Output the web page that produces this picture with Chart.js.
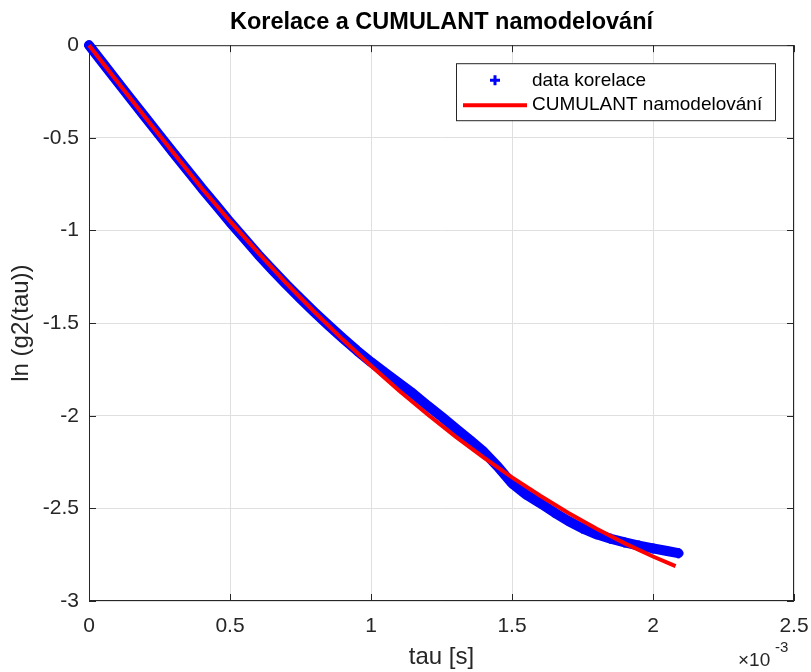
<!DOCTYPE html>
<html>
<head>
<meta charset="utf-8">
<title>Korelace a CUMULANT namodelování</title>
<style>
  html, body { margin: 0; padding: 0; background: #fff; }
  #wrap { width: 811px; height: 672px; }
</style>
</head>
<body>
<div id="wrap"><canvas id="myChart"></canvas></div>

<script src="https://cdn.jsdelivr.net/npm/chart.js"></script>

<script>
// tau in units of 1e-3 s (the axis shows x10^-3)
const tauData = [0.00, 0.05, 0.10, 0.15, 0.20, 0.25, 0.30, 0.35, 0.40, 0.45,
                 0.50, 0.55, 0.60, 0.65, 0.70, 0.75, 0.80, 0.85, 0.90, 0.95,
                 1.00, 1.05, 1.10, 1.15, 1.20, 1.25, 1.30, 1.35, 1.40, 1.45,
                 1.50, 1.55, 1.60, 1.65, 1.70, 1.75, 1.80, 1.85, 1.90, 1.95,
                 2.00, 2.05, 2.09];
const lnG2Data = [0.000, -0.098, -0.196, -0.293, -0.390, -0.486, -0.582, -0.677, -0.772, -0.862,
                  -0.955, -1.042, -1.130, -1.212, -1.292, -1.368, -1.442, -1.513, -1.582, -1.648,
                  -1.710, -1.768, -1.825, -1.882, -1.945, -2.005, -2.068, -2.130, -2.195, -2.275,
                  -2.365, -2.425, -2.472, -2.522, -2.568, -2.608, -2.640, -2.664, -2.684, -2.701,
                  -2.716, -2.730, -2.742];

const tauFit = [0.0, 0.1, 0.2, 0.3, 0.4, 0.5, 0.6, 0.7, 0.8, 0.9, 1.0,
                1.1, 1.2, 1.3, 1.4, 1.5, 1.6, 1.7, 1.8, 1.9, 2.0, 2.08];
const lnG2Fit = [0.000, -0.196, -0.390, -0.582, -0.772, -0.950, -1.120, -1.285, -1.440, -1.589, -1.730,
                 -1.865, -1.992, -2.113, -2.226, -2.333, -2.432, -2.525, -2.610, -2.689, -2.760, -2.812];

const xTicks = [0, 0.5, 1, 1.5, 2, 2.5];
const yTicks = [0, -0.5, -1, -1.5, -2, -2.5, -3];
const seriesLabels = ['data korelace', 'CUMULANT namodelování'];

const axisColor = '#262626';
Chart.defaults.font.family = '"Liberation Sans", Arial, Helvetica, sans-serif';
Chart.defaults.color = axisColor;

// MATLAB style box, inward ticks, legend and exponent label
const matlabLook = {
  id: 'matlabLook',
  beforeDatasetsDraw(chart) {
    const {ctx, chartArea: a, scales: {x, y}} = chart;
    ctx.save();
    ctx.strokeStyle = axisColor;
    ctx.lineWidth = 1;
    ctx.strokeRect(a.left + 0.5, a.top + 0.5, a.right - a.left - 1, a.bottom - a.top - 1);
    ctx.beginPath();
    const tl = 7;
    xTicks.forEach(v => {
      const px = Math.round(x.getPixelForValue(v)) + 0.5;
      ctx.moveTo(px, a.bottom); ctx.lineTo(px, a.bottom - tl);
      ctx.moveTo(px, a.top); ctx.lineTo(px, a.top + tl);
    });
    yTicks.forEach(v => {
      const py = Math.round(y.getPixelForValue(v)) + 0.5;
      ctx.moveTo(a.left, py); ctx.lineTo(a.left + tl, py);
      ctx.moveTo(a.right, py); ctx.lineTo(a.right - tl, py);
    });
    ctx.stroke();
    ctx.restore();
  },
  afterDraw(chart) {
    const {ctx, chartArea: a} = chart;
    ctx.save();
    // legend
    const bx = a.right - 338, by = a.top + 18, bw = 319, bh = 57;
    ctx.fillStyle = '#fff';
    ctx.fillRect(bx, by, bw, bh);
    ctx.strokeStyle = axisColor;
    ctx.lineWidth = 1;
    ctx.strokeRect(bx + 0.5, by + 0.5, bw, bh);
    const ds = chart.data.datasets;
    // marker sample
    ctx.strokeStyle = ds[0].borderColor;
    ctx.lineWidth = 3;
    ctx.beginPath();
    ctx.moveTo(bx + 39 - 5, by + 17); ctx.lineTo(bx + 39 + 5, by + 17);
    ctx.moveTo(bx + 39, by + 12); ctx.lineTo(bx + 39, by + 22);
    ctx.stroke();
    // line sample
    ctx.strokeStyle = ds[1].borderColor;
    ctx.lineWidth = 4;
    ctx.beginPath();
    ctx.moveTo(bx + 7, by + 42); ctx.lineTo(bx + 71, by + 42);
    ctx.stroke();
    ctx.fillStyle = '#000';
    ctx.font = '19px "Liberation Sans", Arial, sans-serif';
    ctx.textBaseline = 'middle';
    ctx.fillText(ds[0].label, bx + 76, by + 18);
    ctx.fillText(ds[1].label, bx + 76, by + 42);
    // x10^-3
    ctx.fillStyle = axisColor;
    ctx.textBaseline = 'alphabetic';
    ctx.font = '19px "Liberation Sans", Arial, sans-serif';
    ctx.fillText('\u00d710', a.right - 56, 666);
    ctx.font = '15px "Liberation Sans", Arial, sans-serif';
    ctx.fillText('-3', a.right - 19, 652);
    ctx.restore();
  }
};

const ctx = document.getElementById('myChart');
new Chart(ctx, {
  type: 'scatter',
  data: {
    datasets: [{
      label: seriesLabels[0],
      data: tauData.map((t, i) => ({x: t, y: lnG2Data[i]})),
      showLine: true,
      borderColor: '#0000ff',
      backgroundColor: '#0000ff',
      borderWidth: 10,
      borderJoinStyle: 'round',
      borderCapStyle: 'round',
      pointStyle: 'cross',
      pointRadius: 5,
      pointBorderWidth: 3,
      pointBorderColor: '#0000ff',
      clip: false,
      order: 2
    }, {
      label: seriesLabels[1],
      data: tauFit.map((t, i) => ({x: t, y: lnG2Fit[i]})),
      showLine: true,
      borderColor: '#ff0000',
      backgroundColor: '#ff0000',
      borderWidth: 4,
      pointRadius: 0,
      clip: false,
      order: 1
    }]
  },
  options: {
    responsive: true,
    maintainAspectRatio: false,
    animation: false,
    layout: { padding: { left: 0, right: 17, top: 0, bottom: 0 } },
    plugins: {
      legend: { display: false },
      tooltip: { enabled: false },
      title: {
        display: true,
        fullSize: false,
        text: 'Korelace a CUMULANT namodelování',
        color: '#000',
        font: { size: 23.5, weight: 'bold' },
        padding: { top: 8, bottom: 9 }
      }
    },
    scales: {
      x: {
        type: 'linear',
        min: 0,
        max: 2.5,
        afterBuildTicks: s => { s.ticks = xTicks.map(v => ({value: v})); },
        afterFit: s => { s.height = 71; s.paddingLeft = 0; s.paddingRight = 0; },
        ticks: { font: { size: 21 }, color: axisColor, padding: 13, callback: v => String(v) },
        grid: { color: '#dfdfdf', drawTicks: false },
        border: { display: false },
        title: { display: true, text: 'tau [s]', font: { size: 24 }, color: axisColor, padding: { top: 0, bottom: 0 } }
      },
      y: {
        type: 'linear',
        min: -3,
        max: 0,
        afterBuildTicks: s => { s.ticks = yTicks.map(v => ({value: v})); },
        afterFit: s => { s.width = 89; s.paddingTop = 0; s.paddingBottom = 0; },
        ticks: { font: { size: 21 }, color: axisColor, padding: 10, callback: v => String(v) },
        grid: { color: '#dfdfdf', drawTicks: false },
        border: { display: false },
        title: { display: true, text: 'ln (g2(tau))', font: { size: 24 }, color: axisColor, padding: { top: 7, bottom: 0 } }
      }
    }
  },
  plugins: [matlabLook]
});
</script>
</body>
</html>
